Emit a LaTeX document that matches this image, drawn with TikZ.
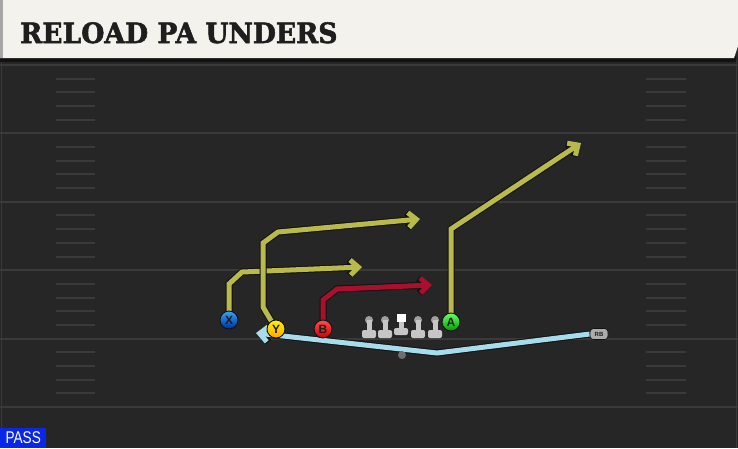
\documentclass[tikz,border=0pt]{standalone}
\usepackage{fontspec}
\newfontfamily\titlefont{DejaVu Serif}[FakeBold=2]
\newfontfamily\labelfont{Liberation Sans}
\usetikzlibrary{arrows.meta}

\definecolor{fieldbg}{HTML}{262626}
\definecolor{yardline}{HTML}{3A3A3A}
\definecolor{titlebg}{HTML}{F4F2EC}
\definecolor{titleink}{HTML}{1E1E1E}
\definecolor{passblue}{HTML}{0A26E6}
\definecolor{yelroute}{HTML}{B9B94C}
\definecolor{redroute}{HTML}{A8102E}
\definecolor{blueroute}{HTML}{A6DCEB}
\definecolor{routeink}{HTML}{121212}
\definecolor{linegray}{HTML}{C6C6C6}
\definecolor{headgray}{HTML}{A0A0A0}
\definecolor{ballgray}{HTML}{6E6E6E}

\pgfdeclarelayer{field}
\pgfdeclarelayer{routes}
\pgfsetlayers{field,routes,main}

\tikzset{
  player/.style={circle, draw=routeink, line width=0.9pt, minimum size=18pt,
    inner sep=0pt, font=\labelfont\bfseries\fontsize{12}{12}\selectfont, text=titleink},
  routeedge/.style={draw=routeink, line width=7pt, line join=miter,
    -{Straight Barb[length=8pt,width=15pt]}},
  routeline/.style={draw=#1, line width=5pt, line join=miter,
    -{Straight Barb[length=8pt,width=15pt]}},
  hashmark/.style={draw=yardline, line width=2pt},
  lineman/.pic={
    \fill[headgray] (0,-10) circle (4);
    \fill[linegray] (-2.5,-10) rectangle (2.5,0);
    \fill[linegray, rounded corners=2pt] (-7,0) rectangle (7,8);
  },
  centerman/.pic={
    \fill[white] (-4.5,-14) rectangle (4.5,-6);
    \fill[linegray] (-2.5,-6) rectangle (2.5,0);
    \fill[linegray, rounded corners=2pt] (-7,0) rectangle (7,7);
  }
}

\newcommand\playroute[2]{%
  \draw[routeedge] #2;
  \draw[routeline=#1] #2;
}

\begin{document}
\begin{tikzpicture}[x=1pt, y=-1pt]
  \useasboundingbox (0,0) rectangle (738,448);

  % field
  \begin{pgfonlayer}{field}
    \fill[fieldbg] (0,0) rectangle (738,448);
    \draw[yardline, line width=1pt] (1.5,60) -- (1.5,448);
    \draw[yardline, line width=1pt] (736.5,60) -- (736.5,448);
    \foreach \k in {0,...,5}
      \draw[yardline, line width=2pt] (0,65+68.4*\k) -- (738,65+68.4*\k);
    \foreach \k in {0,...,4}
      \foreach \j in {1,...,4} {
        \draw[hashmark] (56,65+68.4*\k+13.68*\j) -- (95,65+68.4*\k+13.68*\j);
        \draw[hashmark] (646,65+68.4*\k+13.68*\j) -- (686,65+68.4*\k+13.68*\j);
      }
    % title bar
    \fill[routeink] (0,56) rectangle (736,62);
    \fill[titlebg] (0,0) -- (738,0) -- (738,46) -- (734,58) -- (0,58) -- cycle;
    \fill[gray!70] (0,0) rectangle (2.5,58);
  \end{pgfonlayer}

  \node[anchor=base west, inner sep=0pt, text=titleink,
    font=\titlefont\bfseries\fontsize{28}{28}\selectfont] (title) at (20,43) {\scalebox{0.95}[1]{RELOAD PA UNDERS}};

  % players
  \node[player, shade, top color=blue!45!cyan!80!white, bottom color=blue!70!cyan!60!black] (X) at (229,320) {X};
  \node[player, shade, top color=yellow!90!orange, bottom color=orange!70!yellow] (Y) at (276,329) {Y};
  \node[player, shade, top color=red!70!white, bottom color=red!80!black] (B) at (323,329) {B};
  \node[player, shade, top color=green!60!white, bottom color=green!60!black] (A) at (451,322) {A};
  \node[draw=routeink, line width=0.6pt, fill=gray!65, rounded corners=3.5pt, minimum width=18pt,
    minimum height=11pt, inner sep=0pt, text=titleink,
    font=\labelfont\bfseries\fontsize{6}{6}\selectfont] (RB) at (599,334) {RB};
  \node[circle, fill=ballgray, minimum size=8pt, inner sep=0pt] (ball) at (402,355) {};

  % line
  \foreach \lx in {369,385,418,435}
    \pic at (\lx,330) {lineman};
  \pic at (401,328) {centerman};

  % routes
  \coordinate (xEnd) at (362,267);
  \coordinate (yEnd) at (420,219);
  \coordinate (bEnd) at (432,285);
  \coordinate (aEnd) at (581,143);
  \coordinate (rbEnd) at (256,333);
  \begin{pgfonlayer}{routes}
    \playroute{yelroute}{(X.center) -- (229,284) -- (242,272) -- (xEnd)}
    \playroute{yelroute}{(Y.center) -- (263,307) -- (263,243) -- (278,232) -- (yEnd)}
    \playroute{redroute}{(B.center) -- (323,300) -- (337,289) -- (bEnd)}
    \playroute{yelroute}{(A.center) -- (451,229) -- (aEnd)}
    \playroute{blueroute}{(RB.west) -- (437,353) -- (rbEnd)}
  \end{pgfonlayer}

  % play type
  \node[fill=passblue, anchor=south west, minimum width=46pt, minimum height=20pt,
    inner sep=0pt] (mode) at (0,448) {};
  \node[text=white, font=\labelfont\fontsize{17}{17}\selectfont] at (mode.center) {\scalebox{0.8}[1]{PASS}};
\end{tikzpicture}
\end{document}
